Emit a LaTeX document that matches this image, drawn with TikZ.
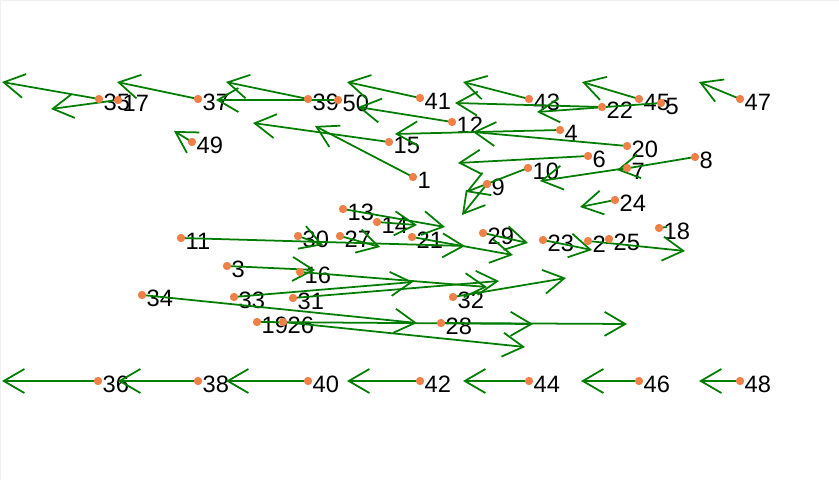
\documentclass[tikz,border=0pt]{standalone}
\usepackage{fontspec}
\setmainfont{Liberation Sans}
\usetikzlibrary{calc}
\usetikzlibrary{arrows.meta}

\definecolor{ptorange}{RGB}{238,128,72}
\definecolor{arrgreen}{RGB}{0,125,0}

\pgfdeclarelayer{front}
\pgfsetlayers{main,front}

\begin{document}
\begin{tikzpicture}[x=0.03cm,y=-0.03cm,
    pt/.style={circle,fill=ptorange,inner sep=0pt,minimum size=0.25cm},
    lbl/.style={anchor=west,inner sep=0pt,font=\fontsize{20.2}{21}\selectfont},
    arr/.style={arrgreen,line width=1.5pt,-{Straight Barb[length=0.62cm,width=0.72cm]}}]
  \useasboundingbox (0,0) rectangle (839,480);
  \draw[gray!12] (0,0.5) -- (839,0.5);
  \draw[gray!12] (0.5,0) -- (0.5,480);

  % points and their numbers
  \foreach \n/\x/\y in {1/413/177, 2/588/241, 3/227/266, 4/560/130, 5/661/103,
      6/588/156, 7/627/168, 8/695/157, 9/487/184, 10/528/168,
      11/181/238, 12/452/122, 13/343/209, 14/377/222, 15/389/142,
      16/300/272, 17/118/100, 18/659/228, 19/257/322, 20/627/146,
      21/412/237, 22/602/107, 23/543/240, 24/615/200, 25/609/239,
      26/283/322, 27/340/236, 28/441/323, 29/483/233, 30/298/236,
      31/293/298, 32/453/297, 33/234/297, 34/142/295, 35/99/99,
      36/98/381, 37/198/99, 38/198/381, 39/308/99, 40/308/381,
      41/420/98, 42/420/381, 43/529/99, 44/529/381, 45/639/99,
      46/639/381, 47/740/99, 48/740/381, 49/192/142, 50/338/100}{
    \begin{pgfonlayer}{front}
      \node[pt] (p\n) at (\x,\y) {};
    \end{pgfonlayer}
    \node[lbl] (l\n) at ($ (p\n)+(4.5,3) $) {\n};
  }

  % displacement arrows
  \foreach \n/\x/\y in {35/2/82, 17/51/109, 37/117/82, 39/226/82, 50/216/100,
      41/347/82, 12/358/107, 43/463/82, 22/455/103, 5/537/112,
      45/582/82, 47/699/82, 15/253/123, 1/315/126, 49/174/131,
      4/395/134, 20/473/132, 6/458/163, 10/466/192, 9/462/215,
      8/617/170, 7/540/181, 24/580/207, 13/445/227, 14/417/225,
      11/465/246, 30/323/245, 27/380/247, 21/513/255, 29/528/243,
      23/592/250, 2/685/251, 3/315/270, 16/487/287, 33/413/282,
      31/499/281, 32/566/278, 28/627/324, 34/417/323, 19/533/324,
      26/525/347, 36/2/381, 38/118/381, 40/226/381, 42/347/381,
      44/463/381, 46/581/381, 48/699/381}{
    \coordinate (t\n) at (\x,\y);
    \draw[arr] (p\n.center) -- (t\n);
  }
  \coordinate (t18) at (667,227);
  \draw[arrgreen,line width=1.5pt] (p18.center) -- (t18);
%  \draw[arr] (p18.center) -- (t18);

\end{tikzpicture}
\end{document}
